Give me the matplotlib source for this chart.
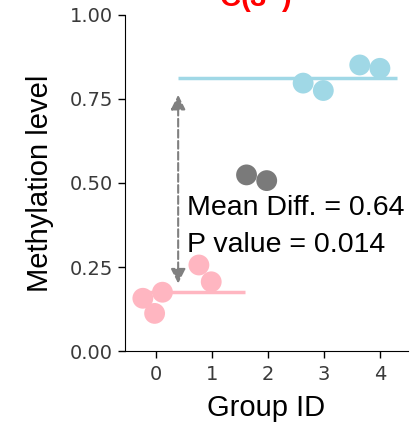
import numpy as np
import matplotlib as mpl
import matplotlib.pyplot as plt

mpl.rcParams['mathtext.fontset'] = 'custom'
mpl.rcParams['mathtext.rm'] = 'Liberation Sans'
mpl.rcParams['mathtext.bf'] = 'Liberation Sans:bold'

# group data
pink_x = [-0.23, -0.02, 0.12, 0.77, 0.99]
pink_y = [0.157, 0.112, 0.175, 0.256, 0.206]
gray_x = [1.62, 1.98]
gray_y = [0.524, 0.507]
blue_x = [2.63, 2.99, 3.64, 4.0]
blue_y = [0.797, 0.775, 0.851, 0.841]

pink_mean = 0.176
blue_mean = 0.811
mean_diff = 0.64
p_value = 0.014

xticks = [0, 1, 2, 3, 4]
yticks = [0, 0.25, 0.5, 0.75, 1.0]

fig = plt.figure(figsize=(4.15, 4.25), dpi=100)
ax = fig.add_axes([0.301, 0.174, 0.682, 0.791])

ax.hlines(pink_mean, -0.2, 1.6, color='#ffb6c1', lw=2.5, zorder=1)
ax.hlines(blue_mean, 0.4, 4.3, color='#a0d8e6', lw=2.5, zorder=1)

ax.scatter(pink_x, pink_y, s=225, color='#ffb6c1', edgecolor='none', zorder=2)
ax.scatter(gray_x, gray_y, s=225, color='#7a7a7a', edgecolor='none', zorder=2)
ax.scatter(blue_x, blue_y, s=225, color='#a0d8e6', edgecolor='none', zorder=2)

ax.annotate('', xy=(0.4, 0.762), xytext=(0.4, 0.201),
            arrowprops=dict(arrowstyle='<|-|>', color='#808080', lw=1.5,
                            linestyle='--', mutation_scale=22,
                            shrinkA=0, shrinkB=0))

ax.text(0.55, 0.425, 'Mean Diff. = %.2f' % mean_diff, fontsize=20.5,
        family='Liberation Sans', va='center', ha='left')
ax.text(0.55, 0.315, 'P value = %.3f' % p_value, fontsize=20.5,
        family='Liberation Sans', va='center', ha='left')

ax.set_xlim(-0.55, 4.5)
ax.set_ylim(0, 1)
ax.set_xticks(xticks)
ax.set_yticks(yticks)
ax.set_yticklabels(['%.2f' % v for v in yticks])
ax.tick_params(labelsize=14, labelcolor='#3a3a3a', length=5, width=1)
ax.tick_params(axis='x', pad=5)

ax.spines['top'].set_visible(False)
ax.spines['right'].set_visible(False)

ax.set_xlabel('Group ID', fontsize=21, family='Liberation Sans', labelpad=7)
ax.set_ylabel('Methylation level', fontsize=21, family='Liberation Sans', labelpad=11)
ax.set_title(r'$\mathbf{C(3^{N})}$', fontsize=21, color='red', pad=-1.5, x=0.46)

fig.savefig('out.png', dpi=100)
